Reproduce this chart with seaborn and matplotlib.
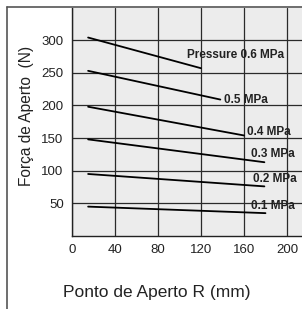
import matplotlib
matplotlib.use("Agg")
import matplotlib.pyplot as plt
import seaborn as sns
import pandas as pd
from matplotlib.lines import Line2D

# Data
pressures = ["0.6", "0.5", "0.4", "0.3", "0.2", "0.1"]
x_start = [15, 15, 15, 15, 15, 15]
x_end = [120, 138, 160, 179, 179, 180]
y_start = [304, 253, 198, 148, 95, 45]
y_end = [257, 209, 154, 113, 76, 35]
labels = ["Pressure 0.6 MPa", "0.5 MPa", "0.4 MPa", "0.3 MPa", "0.2 MPa", "0.1 MPa"]
label_x = [107, 141, 163, 167, 168, 167]
label_y = [277, 208, 160, 125, 87, 46]
x_ticks = [0, 40, 80, 120, 160, 200]
y_ticks = [50, 100, 150, 200, 250, 300]

rows = []
for p, xs, xe, ys, ye in zip(pressures, x_start, x_end, y_start, y_end):
    rows.append({"R": xs, "F": ys, "P": p})
    rows.append({"R": xe, "F": ye, "P": p})
df = pd.DataFrame(rows)

sns.set_style("white")
plt.rcParams["font.family"] = ["Liberation Sans", "DejaVu Sans"]

fig = plt.figure(figsize=(3.02, 3.09), dpi=100)
ax = fig.add_axes([72 / 302, 1 - 236 / 309, 1 - 72 / 302, (236 - 7.5) / 309])
ax.set_facecolor("#ececec")

sns.lineplot(data=df, x="R", y="F", hue="P", palette=["black"] * 6,
             legend=False, ax=ax, linewidth=1.3, estimator=None, sort=False)

ax.set_xticks(x_ticks)
ax.set_yticks(y_ticks)
ax.set_xlim(0, 214)
ax.set_ylim(0, 350)
ax.grid(True, color="#2a2a2a", linewidth=0.9)
ax.set_axisbelow(True)
for s in ["top", "right"]:
    ax.spines[s].set_visible(False)
ax.spines["left"].set_color("#222222")
ax.spines["bottom"].set_color("#222222")
ax.spines["left"].set_linewidth(1.0)
ax.spines["bottom"].set_linewidth(1.0)
ax.tick_params(axis="y", length=4, width=1, color="#222222", labelsize=9.5, pad=2,
               labelcolor="#222222")
ax.tick_params(axis="x", length=0, labelsize=9.5, pad=6, labelcolor="#222222")
ax.set_xlabel("Ponto de Aperto R (mm)", fontsize=12.5, color="#222222", va="center")
ax.set_ylabel("Força de Aperto  (N)", fontsize=11.2, color="#222222", va="center")
ax.xaxis.set_label_coords((157 - 72) / 230, (236 - 293) / 228.5)
ax.yaxis.set_label_coords((26 - 72) / 230, (236 - 116) / 228.5)

for t, lx, ly in zip(labels, label_x, label_y):
    ax.text(lx, ly, t, fontsize=8.5, fontweight="bold", va="center", ha="left",
            color="#222222")

# outer frame lines (left and top)
fig.add_artist(Line2D([7 / 302, 7 / 302], [0, 1 - 7 / 309], transform=fig.transFigure,
                      color="#555555", linewidth=1.2))
fig.add_artist(Line2D([7 / 302, 1], [1 - 7 / 309, 1 - 7 / 309], transform=fig.transFigure,
                      color="#555555", linewidth=1.2))

fig.savefig("out.png", dpi=100, facecolor="white")
